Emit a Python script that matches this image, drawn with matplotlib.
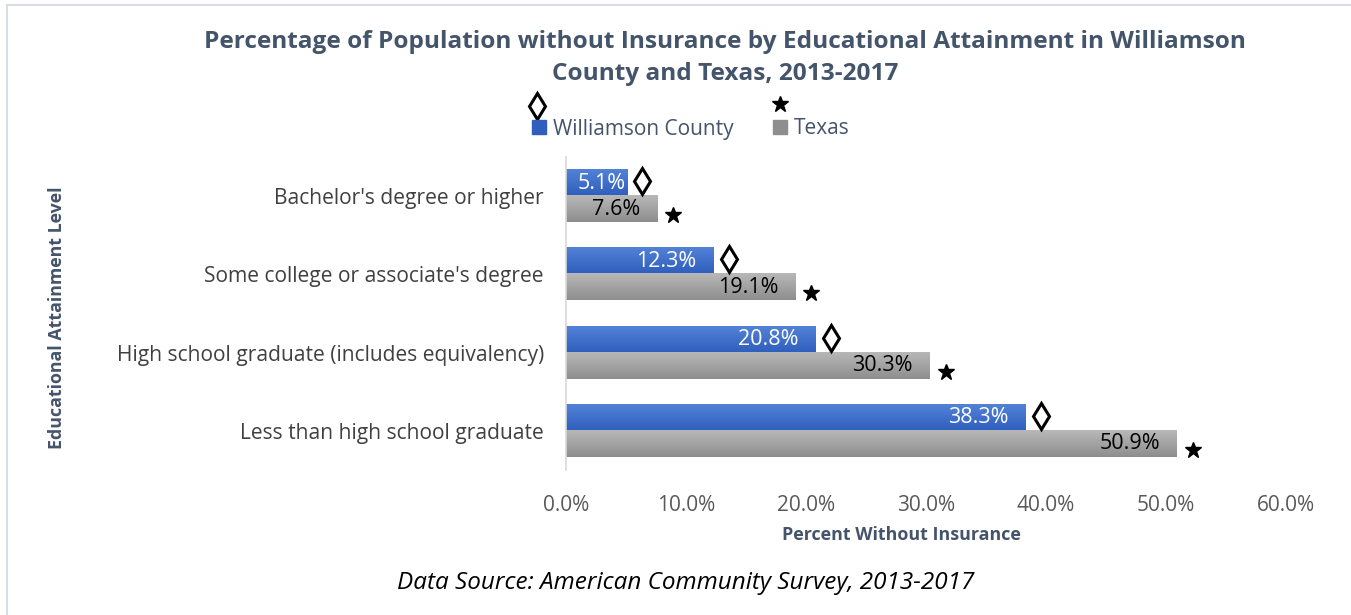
import matplotlib.pyplot as plt
import numpy as np
from matplotlib.colors import LinearSegmentedColormap
from matplotlib.lines import Line2D
from matplotlib.patches import Patch
from matplotlib.transforms import offset_copy

plt.rcParams['font.family'] = ['Open Sans', 'DejaVu Sans']

# ---- data ----
categories = ["Bachelor's degree or higher",
              "Some college or associate's degree",
              "High school graduate (includes equivalency)",
              "Less than high school graduate"]
williamson = [5.1, 12.3, 20.8, 38.3]
texas = [7.6, 19.1, 30.3, 50.9]
x_ticks = [0, 10, 20, 30, 40, 50, 60]
series_names = ['Williamson County', 'Texas']

# ---- style ----
W, H = 1351, 615
slate = '#44546A'
blue_top, blue_bot = '#5282d6', '#2f5ebd'
gray_top, gray_bot = '#b8b8b8', '#8e8e8e'

fig = plt.figure(figsize=(W / 100, H / 100), dpi=100)
ax = fig.add_axes([566 / W, 145 / H, 720 / W, 313 / H])

y = np.arange(len(categories))
h = 1 / 3
blue_bars = ax.barh(y - h / 2, williamson, height=h, color=blue_bot)
gray_bars = ax.barh(y + h / 2, texas, height=h, color=gray_bot)

# vertical gradient on each bar (lighter on top)
grad = np.linspace(0, 1, 64).reshape(-1, 1)
for bars, c0, c1 in [(blue_bars, blue_top, blue_bot), (gray_bars, gray_top, gray_bot)]:
    cmap = LinearSegmentedColormap.from_list('g', [c0, c1])
    for b in bars:
        x0, y0 = b.get_x(), b.get_y()
        ax.imshow(grad, cmap=cmap, aspect='auto', origin='upper',
                  extent=(x0, x0 + b.get_width(), y0 + b.get_height(), y0), zorder=2)

ax.set_xlim(0, 60)
ax.set_ylim(3.5, -0.5)

# value labels inside bar ends
for bars, vals, col in [(blue_bars, williamson, 'white'), (gray_bars, texas, 'black')]:
    for b, v in zip(bars, vals):
        pad = 17 if v > 7 else 1
        ax.annotate(f'{v:.1f}%', xy=(v, b.get_y() + b.get_height() / 2),
                    xytext=(-pad, 0), textcoords='offset pixels',
                    ha='right', va='center', color=col, fontsize=15.5, zorder=5)

# symbols next to bars
tr_d = offset_copy(ax.transData, fig=fig, x=15, y=2, units='dots')
tr_s = offset_copy(ax.transData, fig=fig, x=16, y=-6, units='dots')
ax.plot(williamson, y - h / 2, transform=tr_d, ls='none', marker='d', ms=13.5,
        mfc='white', mec='black', mew=2.2, clip_on=False, zorder=6)
ax.plot(texas, y + h / 2, transform=tr_s, ls='none', marker='*', ms=12,
        color='black', clip_on=False, zorder=6)

# axes styling
for s in ['top', 'right', 'bottom']:
    ax.spines[s].set_visible(False)
ax.spines['left'].set_color('#d9d9d9')
ax.spines['left'].set_linewidth(1.2)
ax.set_yticks(y)
ax.set_yticklabels(categories, fontsize=15.1, color='#404040')
ax.set_xticks(x_ticks)
ax.set_xticklabels([f'{t:.1f}%' for t in x_ticks], fontsize=15, color='#595959')
ax.tick_params(axis='y', length=0, pad=16)
ax.tick_params(axis='x', length=0, pad=18)

# titles and labels
fig.text(725 / W, 1 - 42 / H,
         'Percentage of Population without Insurance by Educational Attainment in Williamson',
         ha='center', va='center', fontsize=17.6, fontweight='bold', color=slate)
fig.text(725 / W, 1 - 74 / H, 'County and Texas, 2013-2017',
         ha='center', va='center', fontsize=17.6, fontweight='bold', color=slate)
fig.text(901 / W, 1 - 535 / H, 'Percent Without Insurance',
         ha='center', va='center', fontsize=12.9, fontweight='bold', color=slate)
fig.text(57 / W, 1 - 318 / H, 'Educational Attainment Level', rotation=90,
         ha='center', va='center', fontsize=12.8, fontweight='bold', color=slate)
fig.text(686 / W, 1 - 583 / H, 'Data Source: American Community Survey, 2013-2017',
         ha='center', va='center', fontsize=17.5, style='italic', color='black')

# legend with symbols above the keys
fig.legend(handles=[Patch(color=blue_bot), Patch(color=gray_bot)], labels=series_names,
           loc='center', bbox_to_anchor=(691 / W, 1 - 129 / H), ncol=2, frameon=False,
           fontsize=15, labelcolor=slate, handlelength=0.65, handleheight=0.65,
           handletextpad=0.35, columnspacing=1.9)
fig.add_artist(Line2D([537 / W], [1 - 106 / H], transform=fig.transFigure, marker='d',
                      ms=13.5, mfc='white', mec='black', mew=2.2))
fig.add_artist(Line2D([780 / W], [1 - 104 / H], transform=fig.transFigure, marker='*',
                      ms=12, color='black'))

# chart frame (top and left edges)
fig.add_artist(Line2D([7 / W, 1], [1 - 5 / H, 1 - 5 / H], transform=fig.transFigure,
                      color='#d9dee6', lw=1.5))
fig.add_artist(Line2D([7 / W, 7 / W], [0, 1 - 5 / H], transform=fig.transFigure,
                      color='#d9dee6', lw=1.5))

fig.savefig('out.png', dpi=100)
